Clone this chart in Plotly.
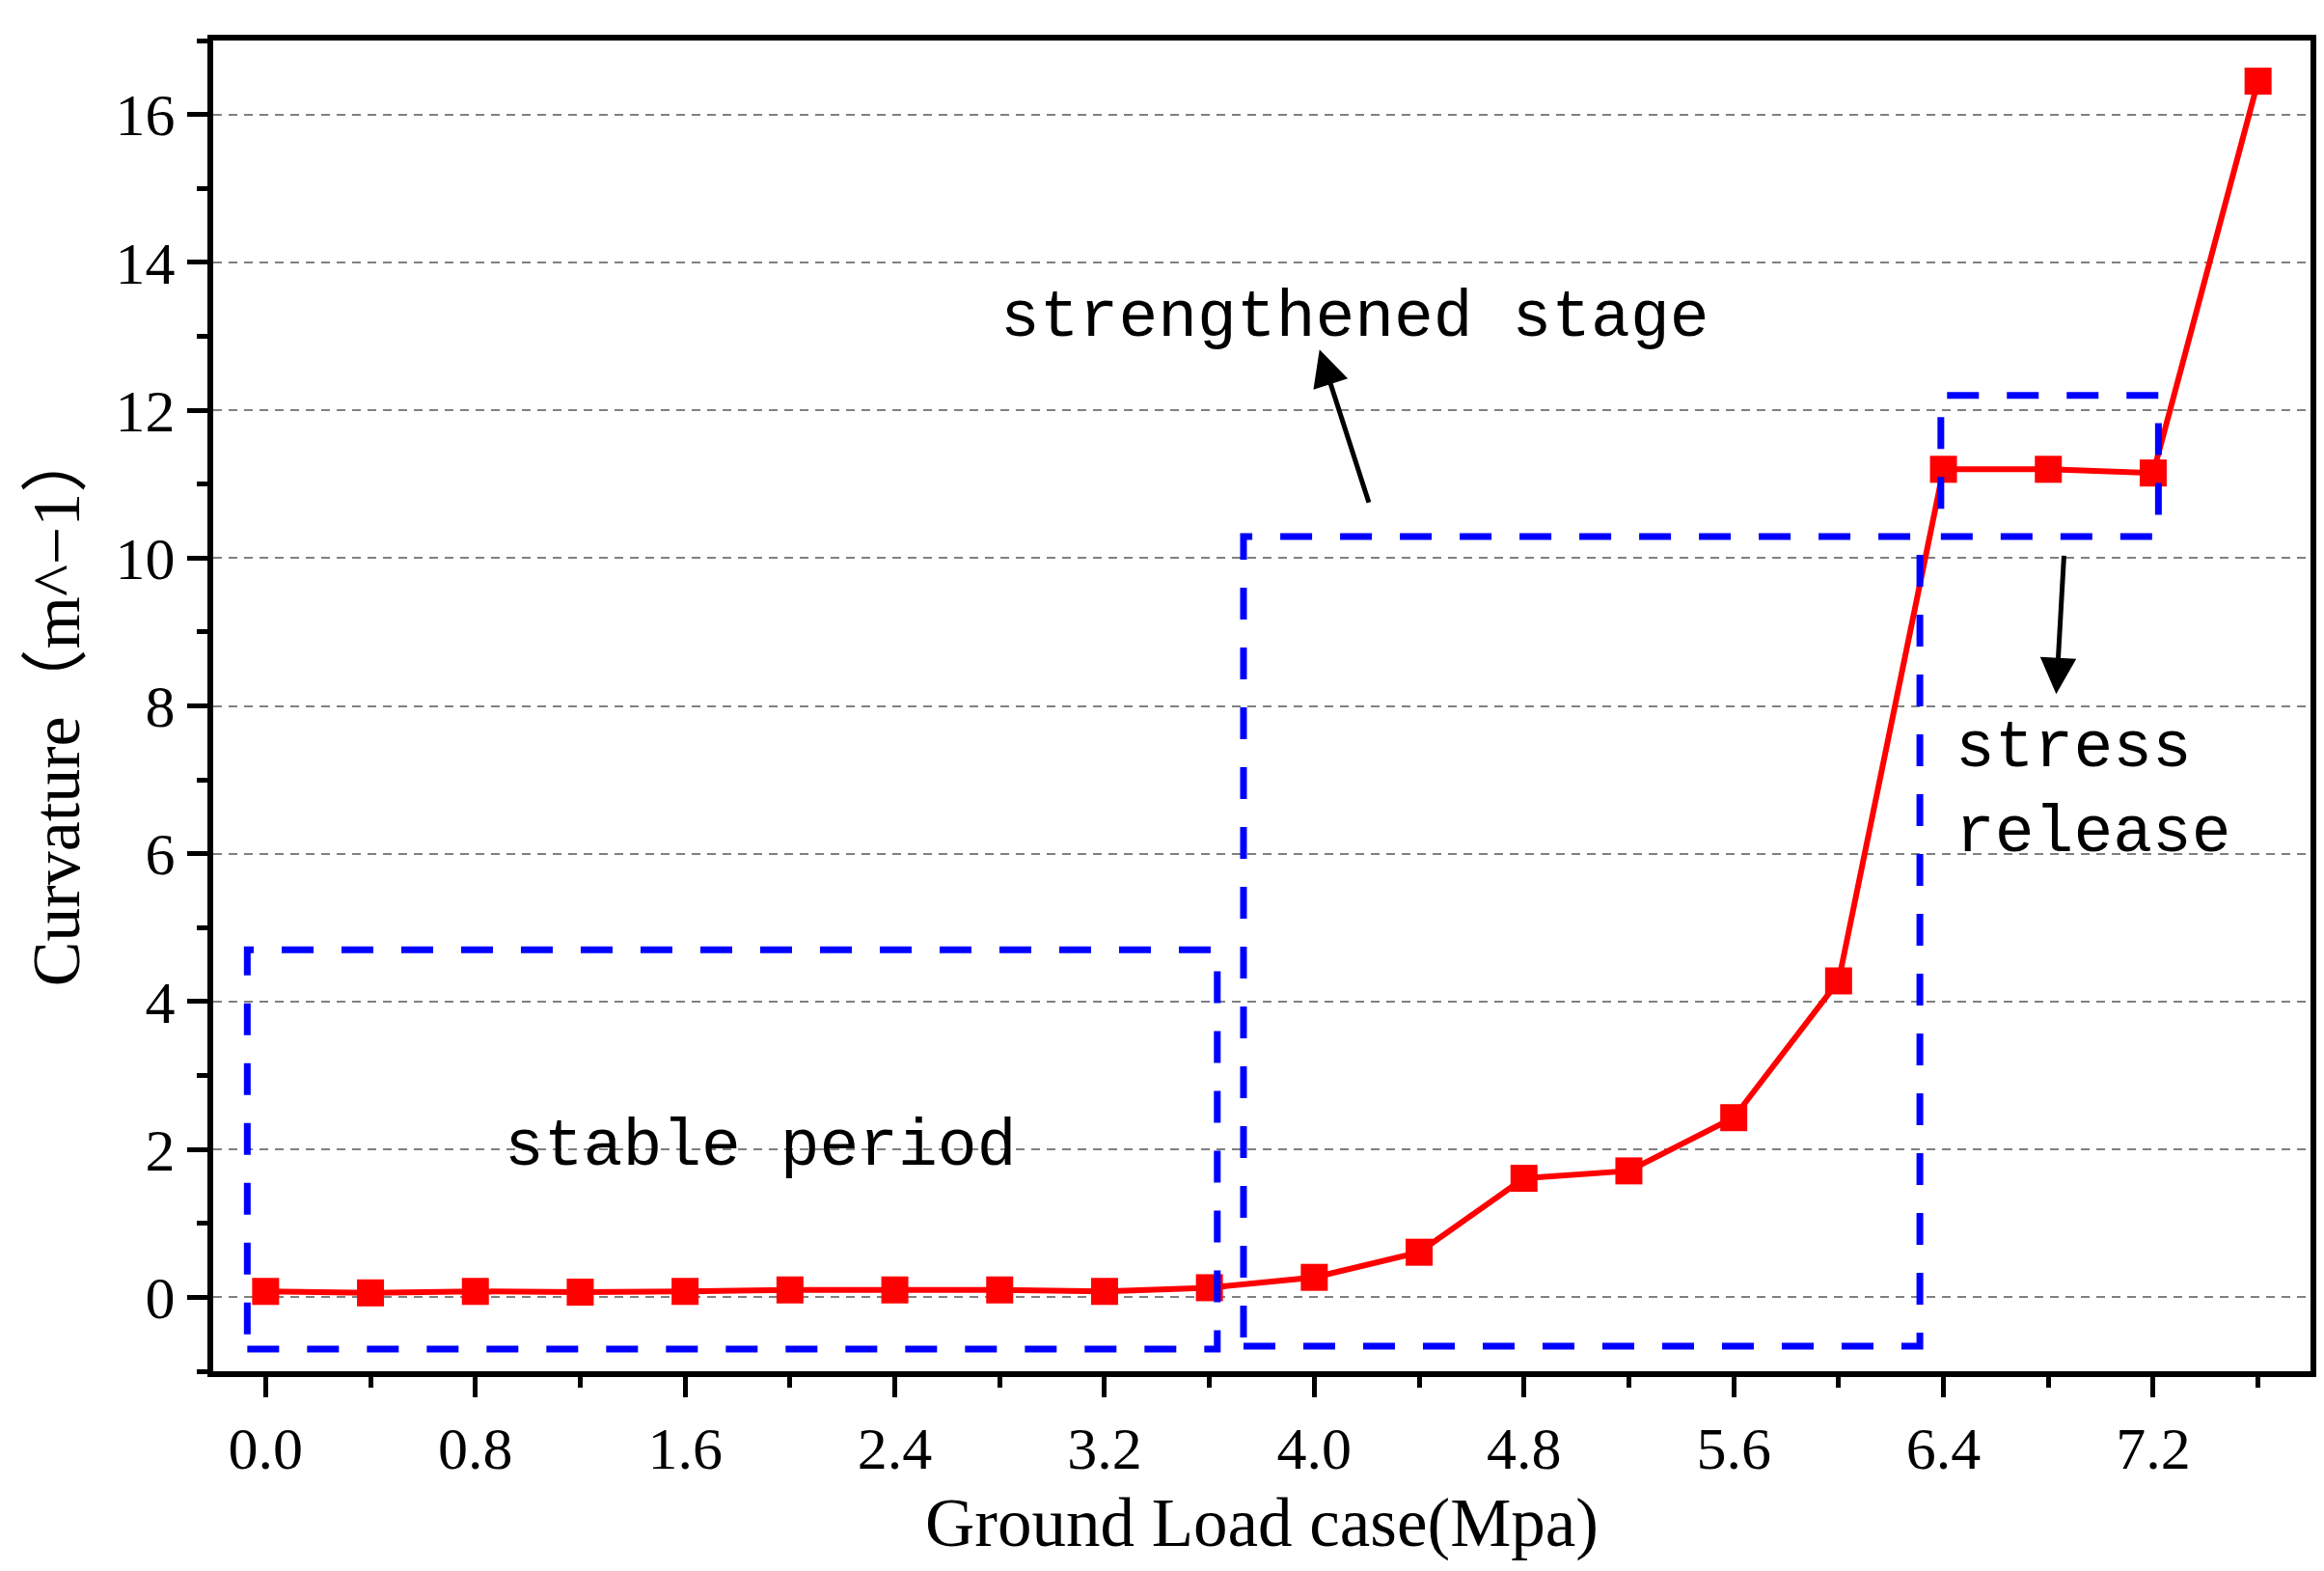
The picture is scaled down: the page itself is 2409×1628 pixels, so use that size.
import plotly.graph_objects as go

# ---- data ----
load_mpa = [0.0, 0.4, 0.8, 1.2, 1.6, 2.0, 2.4, 2.8, 3.2, 3.6,
            4.0, 4.4, 4.8, 5.2, 5.6, 6.0, 6.4, 6.8, 7.2, 7.6]
curvature = [0.08, 0.06, 0.08, 0.07, 0.08, 0.10, 0.10, 0.10, 0.08, 0.13,
             0.27, 0.61, 1.61, 1.71, 2.43, 4.28, 11.20, 11.20, 11.15, 16.45]

x_tick_vals = [0.0, 0.8, 1.6, 2.4, 3.2, 4.0, 4.8, 5.6, 6.4, 7.2]
x_tick_text = ["0.0", "0.8", "1.6", "2.4", "3.2", "4.0", "4.8", "5.6", "6.4", "7.2"]
y_tick_vals = [0, 2, 4, 6, 8, 10, 12, 14, 16]
y_tick_text = ["0", "2", "4", "6", "8", "10", "12", "14", "16"]

# stage boxes: (x0, x1, y0, y1)
stage_names = ["stable period", "strengthened stage", "stress release"]
box_x0 = [-0.07, 3.73, 6.39]
box_x1 = [3.63, 6.31, 7.22]
box_y0 = [-0.70, -0.66, 10.29]
box_y1 = [4.70, 10.29, 12.20]

# labels
label_text = ["stable period", "strengthened stage", "stress<br>release"]
label_x = [1.89, 4.155, 6.44]
label_y = [2.03, 13.25, 6.85]

# arrows: head (x, y), tail (ax, ay)
arrow_x = [4.02, 6.83]
arrow_y = [12.82, 8.16]
arrow_ax = [4.21, 6.86]
arrow_ay = [10.73, 10.05]

serif = "Liberation Serif, Times New Roman, Noto Sans CJK SC, serif"
mono = "Liberation Mono, Courier New, monospace"

fig = go.Figure()
fig.add_trace(go.Scatter(
    x=load_mpa, y=curvature, mode="lines+markers",
    line=dict(color="#ff0000", width=6),
    marker=dict(symbol="square", size=28, color="#ff0000"),
    showlegend=False,
))

for x0, x1, y0, y1 in zip(box_x0, box_x1, box_y0, box_y1):
    fig.add_shape(type="rect", xref="x", yref="y", x0=x0, x1=x1, y0=y0, y1=y1,
                  line=dict(color="#0000ff", width=7, dash="33px,29px"),
                  fillcolor="rgba(0,0,0,0)", layer="above")

for t, lx, ly in zip(label_text, label_x, label_y):
    fig.add_annotation(x=lx, y=ly, xref="x", yref="y", text=t, showarrow=False,
                       xanchor="left" if "release" in t else "center",
                       align="left", font=dict(family=mono, size=68, color="black"))

for hx, hy, tx, ty in zip(arrow_x, arrow_y, arrow_ax, arrow_ay):
    fig.add_annotation(x=hx, y=hy, ax=tx, ay=ty, xref="x", yref="y",
                       axref="x", ayref="y", text="", showarrow=True,
                       arrowhead=2, arrowsize=1.5, arrowwidth=5,
                       arrowcolor="black", standoff=0, startstandoff=0)

fig.update_layout(
    width=2409, height=1628,
    margin=dict(l=213, r=22, t=34, b=215),
    paper_bgcolor="white", plot_bgcolor="white",
    font=dict(family=serif, color="black"),
)

fig.update_xaxes(
    range=[-0.2, 7.8], tickmode="array", tickvals=x_tick_vals, ticktext=x_tick_text,
    ticks="outside", ticklen=21, tickwidth=5, tickcolor="black",
    minor=dict(dtick=0.4, ticks="outside", ticklen=11, tickwidth=5, tickcolor="black", showgrid=False),
    showline=True, linewidth=6, linecolor="black", mirror=True,
    showgrid=False, zeroline=False,
    tickfont=dict(family=serif, size=62, color="black"),
    title=dict(text="Ground Load case(Mpa)", font=dict(family=serif, size=71, color="black"), standoff=20),
)
fig.update_yaxes(
    range=[-1, 17], tickmode="array", tickvals=y_tick_vals, ticktext=y_tick_text,
    ticks="outside", ticklen=21, tickwidth=5, tickcolor="black",
    minor=dict(dtick=1, tick0=0, ticks="outside", ticklen=11, tickwidth=5, tickcolor="black", showgrid=False),
    showline=True, linewidth=6, linecolor="black", mirror=True,
    showgrid=True, gridcolor="#808080", gridwidth=2, griddash="9px,7px",
    zeroline=False,
    tickfont=dict(family=serif, size=62, color="black"),
    title=dict(text="Curvature（m^−1）", font=dict(family=serif, size=70, color="black"), standoff=16),
)

fig.write_html("out.html")
